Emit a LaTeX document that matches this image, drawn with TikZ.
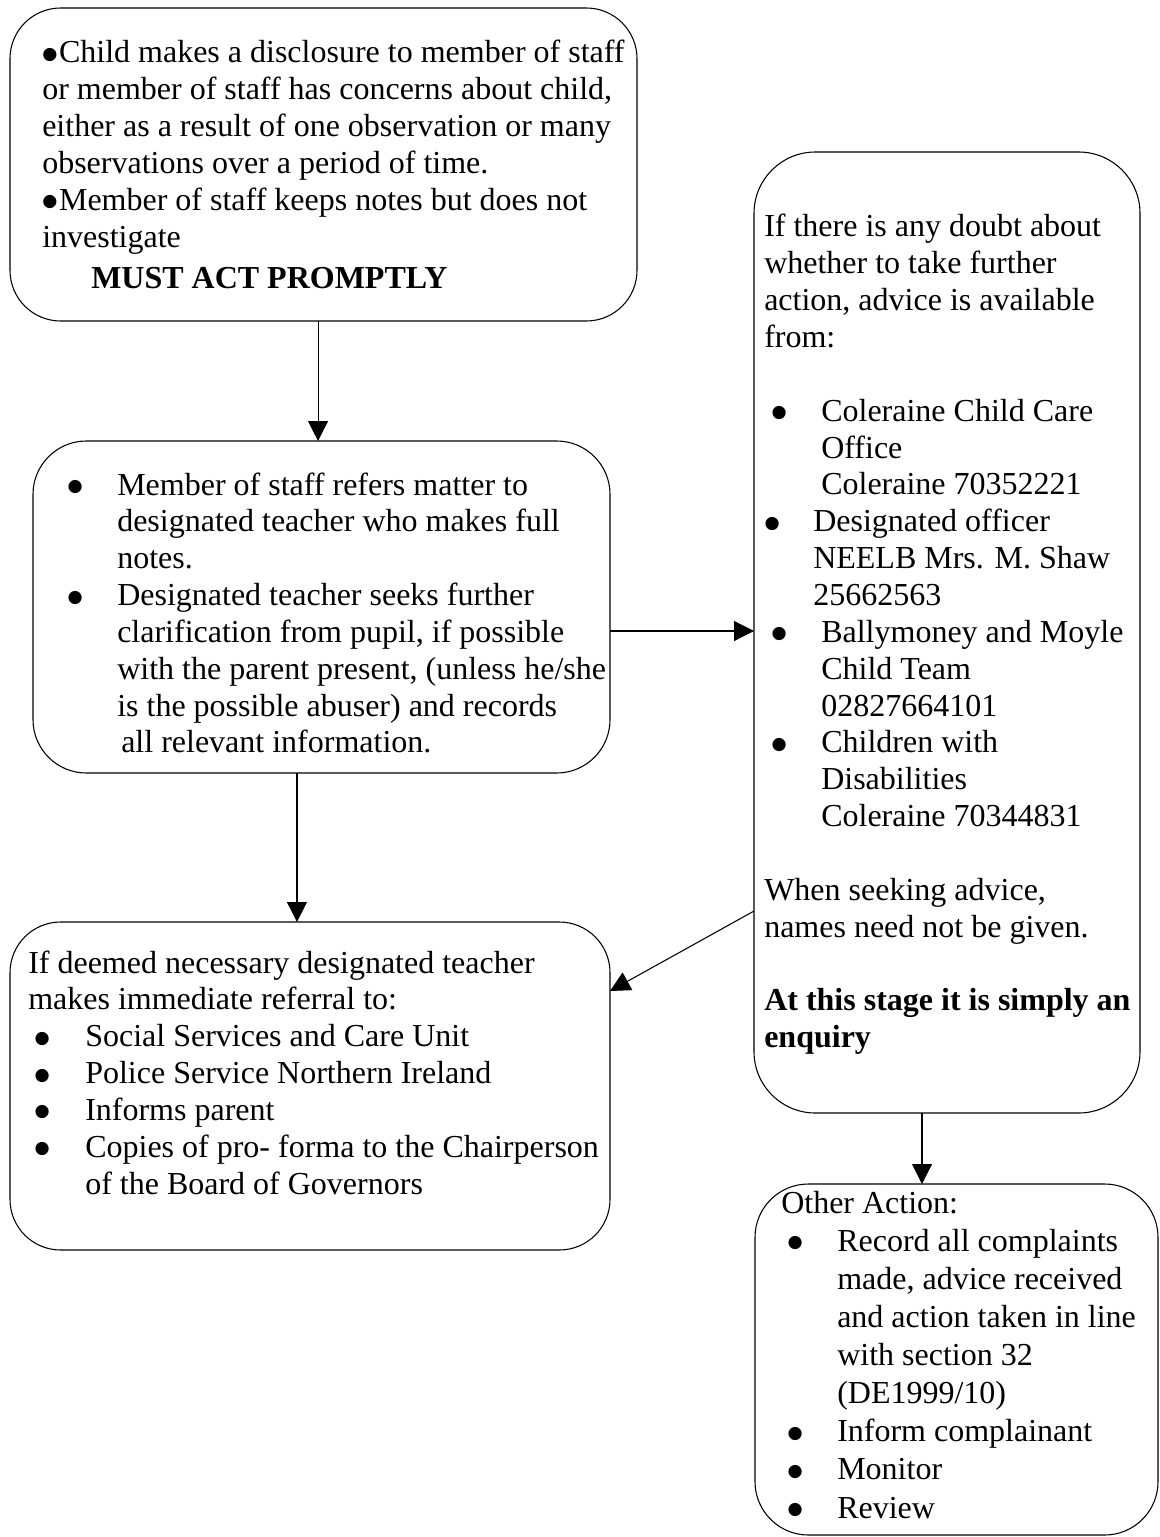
\documentclass[tikz,border=0pt]{standalone}
\usepackage{fontspec}
\setmainfont{Liberation Serif}
\newfontfamily\dotfont{DejaVu Sans}
\usetikzlibrary{arrows.meta,fit}

% bullets as the reference draws them
\newcommand{\bigdot}{\raisebox{2.6pt}{\dotfont\fontsize{13}{13}\selectfont ●}}
\newcommand{\leaddot}{\makebox[12.6pt][l]{\bigdot}}
% bullet at #1, text at #2 (from the left of the text block)
\newcommand{\blt}[2]{\makebox[0pt][l]{\hspace*{#1}\makebox[0pt][c]{\bigdot}}\hspace*{#2}}
\newcommand{\ind}[1]{\hspace*{#1}}

\begin{document}
\begin{tikzpicture}[x=0.75pt, y=-0.75pt,
	box/.style={ draw, line width=0.8pt, rounded corners=#1, inner sep=0pt, outer sep=0pt },
	box/.default=38pt,
	txt/.style={ anchor=base west, inner sep=0pt, font=\fontsize{24}{27.64}\selectfont },
	arr/.style={ line width=0.8pt, -{Triangle[length=15pt, width=15pt]} }
]
\useasboundingbox (0,0) rectangle (1159,1537);

\node[box=38pt, fit={(10,8) (637,321)}] (alert) {};
\node[box=40pt, fit={(33,441) (610,773)}] (staff) {};
\node[box=38pt, fit={(10,922) (610,1250)}] (referral) {};
\node[box=46pt, fit={(754,152) (1140,1113)}] (advice) {};
\node[box=40pt, fit={(755,1184) (1158,1535)}] (other) {};

\node[txt] (alerttext) at (42,63) {\parbox[t]{460pt}{\raggedright
\leaddot Child makes a disclosure to member of staff\\
or member of staff has concerns about child,\\
either as a result of one observation or many\\
observations over a period of time.\\
\leaddot Member of staff keeps notes but does not\\
investigate\\[3pt]
\ind{36.75pt}\textbf{MUST ACT PROMPTLY}}};

\node[txt] (stafftext) at (60,495) {\parbox[t]{420pt}{\raggedright
\blt{11.25pt}{42.75pt}Member of staff refers matter to\\
\ind{42.75pt}designated teacher who makes full\\
\ind{42.75pt}notes.\\
\blt{11.25pt}{42.75pt}Designated teacher seeks further\\
\ind{42.75pt}clarification from pupil, if possible\\
\ind{42.75pt}with the parent present, (unless he/she\\
\ind{42.75pt}is the possible abuser) and records\\
\ind{45.75pt}all relevant information.}};

\node[txt] (referraltext) at (28,973) {\parbox[t]{440pt}{\raggedright
If deemed necessary designated teacher\\
makes immediate referral to:\\
\blt{10.5pt}{42.75pt}Social Services and Care Unit\\
\blt{10.5pt}{42.75pt}Police Service Northern Ireland\\
\blt{10.5pt}{42.75pt}Informs parent\\
\blt{10.5pt}{42.75pt}Copies of pro- forma to the Chairperson\\
\ind{42.75pt}of the Board of Governors}};

\node[txt] (advicetext) at (764,237) {\parbox[t]{285pt}{\raggedright
If there is any doubt about\\
whether to take further\\
action, advice is available\\
from:\\[27.64pt]
\blt{11.25pt}{42.75pt}Coleraine Child Care\\
\ind{42.75pt}Office\\
\ind{42.75pt}Coleraine 70352221\\
\blt{6pt}{36.75pt}Designated officer\\
\ind{36.75pt}NEELB Mrs. M. Shaw\\
\ind{36.75pt}25662563\\
\blt{11.25pt}{42.75pt}Ballymoney and Moyle\\
\ind{42.75pt}Child Team\\
\ind{42.75pt}02827664101\\
\blt{11.25pt}{42.75pt}Children with\\
\ind{42.75pt}Disabilities\\
\ind{42.75pt}Coleraine 70344831\\[27.64pt]
When seeking advice,\\
names need not be given.\\[27.64pt]
\textbf{At this stage it is simply an}\\
\textbf{enquiry}}};

\node[txt, font=\fontsize{24}{28.6}\selectfont] (othertext) at (781,1213) {\parbox[t]{285pt}{\raggedright
Other Action:\\
\blt{10.5pt}{42pt}Record all complaints\\
\ind{42pt}made, advice received\\
\ind{42pt}and action taken in line\\
\ind{42pt}with section 32\\
\ind{42pt}(DE1999/10)\\
\blt{10.5pt}{42pt}Inform complainant\\
\blt{10.5pt}{42pt}Monitor\\
\blt{10.5pt}{42pt}Review}};

% arrows
\coordinate (a1) at ([xshift=-2.6pt]staff.north);
\draw[arr] (a1 |- alert.south) -- (a1);
\coordinate (a2) at ([xshift=-18.4pt]staff.south);
\draw[arr] (a2) -- (a2 |- referral.north);
\coordinate (a3) at ([yshift=-18pt]staff.east);
\draw[arr] (a3) -- (a3 -| advice.west);
\draw[arr] ([yshift=-208.9pt]advice.west) -- ([yshift=71.25pt]referral.east);
\coordinate (a5) at ([xshift=-18.75pt]advice.south);
\draw[arr] (a5) -- (a5 |- other.north);

\end{tikzpicture}
\end{document}
